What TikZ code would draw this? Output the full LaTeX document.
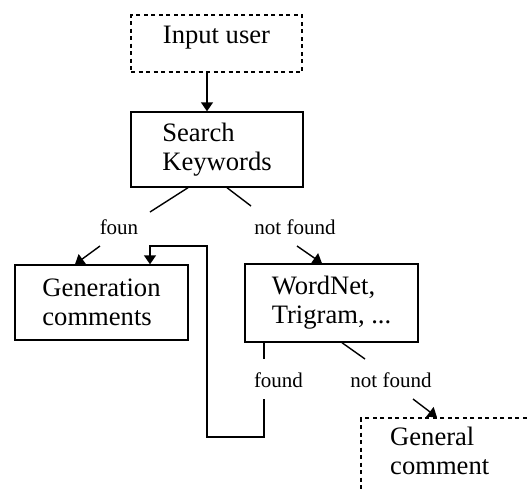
\documentclass[tikz,border=0pt]{standalone}
\usepackage{fontspec}
\setmainfont{Liberation Serif}
\usetikzlibrary{arrows.meta}
\tikzset{
  box/.style={draw, line width=1.4pt, rectangle, align=left, inner xsep=0pt, inner ysep=0pt,
    font=\fontsize{26.6}{29}\selectfont},
  dotbox/.style={box, dash pattern=on 4pt off 3.5pt},
  lbl/.style={inner sep=0pt, font=\fontsize{21}{24}\selectfont},
  conn/.style={line width=1.4pt},
  arr/.style={conn, -{Triangle[length=9pt,width=12pt]}}
}
\begin{document}
\begin{tikzpicture}[x=1pt,y=-1pt]
\clip (0,0) rectangle (528,490);
% boxes
\node[dotbox, minimum width=171pt, minimum height=57pt, text height=18pt, text depth=19pt] (input) at (216.5,43.5) {Input user};
\node[box, minimum width=172pt, minimum height=75pt] (search) at (217,149.5) {Search\\Keywords};
\node[box, minimum width=173pt, minimum height=75pt] (gen) at (101.5,302.5) {Generation\\comments};
\node[box, minimum width=173pt, minimum height=78pt] (wn) at (331.5,303) {WordNet,\\Trigram, ...};
\node[dotbox, minimum width=173pt, minimum height=82pt] (gc) at (447.5,459) {};
\node[inner sep=0pt, align=left, anchor=west, font=\fontsize{26.6}{29}\selectfont] (gctext) at (390,451) {General\\comment};
% labels
\node[lbl] (foun) at (119,227) {foun};
\node[lbl] (nf1) at (295,227) {not found};
\node[lbl] (fd) at (278.5,380) {found};
\node[lbl] (nf2) at (391,380) {not found};
% free ends
\coordinate (a1) at (150,212);
\coordinate (a2) at (100,246);
\coordinate (b1) at (251,206);
\coordinate (b2) at (297,246);
\coordinate (c1) at (264,359);
\coordinate (c2) at (264,399);
\coordinate (d1) at (365,359);
\coordinate (d2) at (413,399);
% connectors
\draw[arr] ([xshift=-9.5pt]input.south) -- ([xshift=-10pt]search.north);
\draw[conn] ([xshift=-29pt]search.south) -- (a1);
\draw[arr] (a2) -- ([xshift=-26.5pt]gen.north);
\draw[conn] ([xshift=10pt]search.south) -- (b1);
\draw[arr] (b2) -- ([xshift=-9.5pt]wn.north);
\draw[conn] ([xshift=-67.5pt]wn.south) -- (c1);
\draw[arr] (c2) -- (264,437) -- (207,437) -- (207,246) -- (150,246) -- ([xshift=48.5pt]gen.north);
\draw[conn] ([xshift=10.5pt]wn.south) -- (d1);
\draw[arr] (d2) -- ([xshift=-10.5pt]gc.north);
\end{tikzpicture}
\end{document}
